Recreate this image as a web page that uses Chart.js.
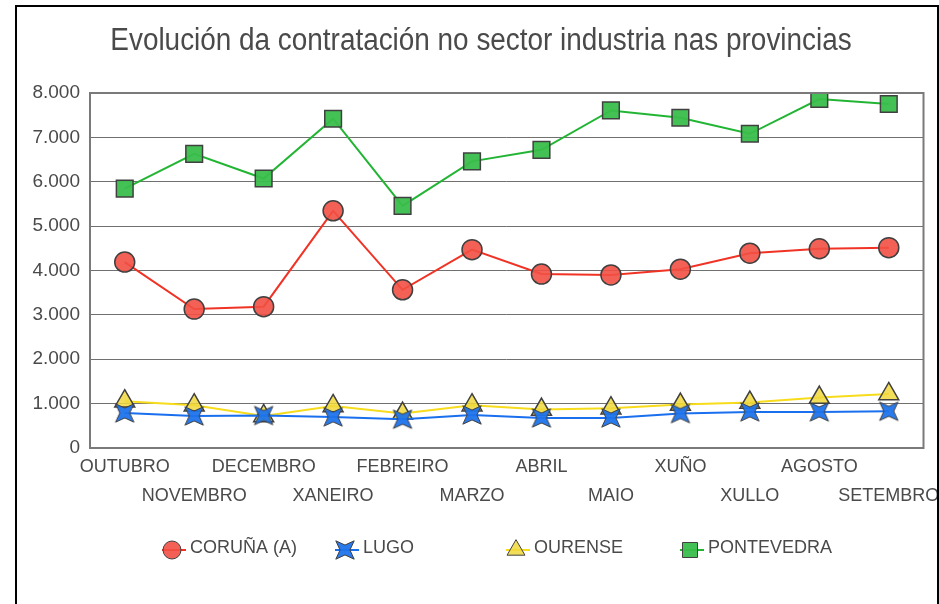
<!DOCTYPE html>
<html>
<head>
<meta charset="utf-8">
<script src="https://cdn.jsdelivr.net/npm/chart.js@4.4.1/dist/chart.umd.min.js"></script>
<style>
  html, body { margin: 0; padding: 0; background: #fff; }
  #frame {
    position: absolute; left: 15px; top: 5px;
    width: 920px; height: 700px;
    border: 2px solid #000; overflow: hidden;
  }
  #chart { display: block; }
</style>
</head>
<body>
<div id="frame"><canvas id="chart" width="920" height="597"></canvas></div>
<script>
const months = ['OUTUBRO', 'NOVEMBRO', 'DECEMBRO', 'XANEIRO', 'FEBREIRO', 'MARZO',
    'ABRIL', 'MAIO', 'XUÑO', 'XULLO', 'AGOSTO', 'SETEMBRO'];

const coruna = [4190, 3130, 3185, 5345, 3565, 4470, 3920, 3900, 4030, 4390, 4490, 4515];
const lugo = [790, 722, 731, 700, 648, 745, 677, 677, 776, 813, 813, 828];
const ourense = [1054, 964, 722, 948, 776, 964, 866, 896, 980, 1025, 1138, 1219];
const pontevedra = [5845, 6630, 6073, 7420, 5456, 6460, 6720, 7607, 7442, 7081, 7865, 7752];

const yTicks = [0, 1000, 2000, 3000, 4000, 5000, 6000, 7000, 8000];

const chartTitle = 'Evolución da contratación no sector industria nas provincias';

const FONT = '"Liberation Sans", Arial, sans-serif';
const TEXT = '#4a4a4a';

// 4-point star marker (points on the diagonals) used by LUGO
function makeStar(size, fill) {
    const c = document.createElement('canvas');
    c.width = size; c.height = size;
    const g = c.getContext('2d');
    const m = size / 2, ro = size / 2 - 1, ri = ro * 0.38;
    g.beginPath();
    for (let i = 0; i < 8; i++) {
        const a = -Math.PI * 3 / 4 + i * Math.PI / 4;
        const r = i % 2 === 0 ? ro : ri;
        const px = m + r * Math.cos(a);
        const py = m + r * Math.sin(a);
        if (i === 0) g.moveTo(px, py); else g.lineTo(px, py);
    }
    g.closePath();
    g.fillStyle = fill;
    g.fill();
    g.strokeStyle = '#404040';
    g.lineWidth = 1;
    g.stroke();
    return c;
}
const starImg = makeStar(28, 'rgba(30,115,235,0.95)');

const series = [
    { label: 'CORUÑA (A)', data: coruna, line: '#f03325', fill: 'rgba(242,80,68,0.9)', style: 'circle', r: 10 },
    { label: 'LUGO', data: lugo, line: '#1a6fee', fill: 'rgba(30,115,235,0.95)', style: starImg, r: 12 },
    { label: 'OURENSE', data: ourense, line: '#f7dc1c', fill: 'rgba(240,216,60,0.85)', style: 'triangle', r: 11.5 },
    { label: 'PONTEVEDRA', data: pontevedra, line: '#22b534', fill: 'rgba(58,190,75,0.95)', style: 'rect', r: 11.8 }
];

const plotFrame = {
    id: 'plotFrame',
    afterDraw(chart) {
        const a = chart.chartArea, ctx = chart.ctx;
        ctx.save();
        ctx.strokeStyle = '#7a7a7a';
        ctx.lineWidth = 2;
        ctx.strokeRect(a.left, a.top, a.right - a.left, a.bottom - a.top);
        ctx.restore();
        // title, condensed horizontally
        ctx.save();
        ctx.fillStyle = TEXT;
        ctx.font = '31px ' + FONT;
        ctx.textAlign = 'center';
        ctx.textBaseline = 'alphabetic';
        ctx.translate(464, 43);
        ctx.scale(0.9, 1);
        ctx.fillText(chartTitle, 0, 0);
        ctx.restore();
    }
};

const customLegend = {
    id: 'customLegend',
    afterDraw(chart) {
        const ctx = chart.ctx;
        const y = 543;
        const xs = [155, 328, 499, 673];
        ctx.save();
        chart.data.datasets.forEach((ds, i) => {
            const cx = xs[i];
            ctx.strokeStyle = ds.borderColor;
            ctx.lineWidth = 2;
            ctx.beginPath();
            ctx.moveTo(cx - 10, y);
            ctx.lineTo(cx + 14, y);
            ctx.stroke();
            ctx.fillStyle = ds.pointBackgroundColor;
            ctx.strokeStyle = '#404040';
            ctx.lineWidth = 1;
            Chart.helpers.drawPoint(ctx, { pointStyle: ds.pointStyle, radius: ds.pointRadius * 0.9, borderWidth: 1, rotation: 0 }, cx, y);
            ctx.fillStyle = TEXT;
            ctx.font = '18px ' + FONT;
            ctx.textBaseline = 'middle';
            ctx.textAlign = 'left';
            ctx.fillText(ds.label, cx + 18, y - 2);
        });
        ctx.restore();
    }
};

new Chart(document.getElementById('chart'), {
    type: 'line',
    data: {
        labels: months,
        datasets: series.map(s => ({
            label: s.label,
            data: s.data,
            borderColor: s.line,
            borderWidth: 2,
            backgroundColor: s.fill,
            pointBackgroundColor: s.fill,
            pointBorderColor: '#404040',
            pointBorderWidth: 1.5,
            pointStyle: s.style,
            pointRadius: s.r,
            tension: 0,
            fill: false
        }))
    },
    options: {
        responsive: false,
        animation: false,
        events: [],
        layout: { padding: { top: 86, left: 0, right: 12, bottom: 96 } },
        plugins: {
            legend: { display: false },
            tooltip: { enabled: false },
            title: { display: false }
        },
        scales: {
            x: {
                offset: true,
                grid: { display: false, drawTicks: false },
                border: { display: false },
                ticks: {
                    autoSkip: false,
                    maxRotation: 0,
                    minRotation: 0,
                    padding: 4,
                    color: TEXT,
                    font: { family: FONT, size: 18, lineHeight: 1.62 },
                    callback: (v, i) => i % 2 ? ['', months[i]] : months[i]
                },
                afterFit(scale) {
                    scale.height = 60;
                    scale.paddingLeft = 0;
                    scale.paddingRight = 0;
                }
            },
            y: {
                min: 0,
                max: 8000,
                afterBuildTicks(scale) { scale.ticks = yTicks.map(v => ({ value: v })); },
                grid: { color: '#707070', lineWidth: 1, drawTicks: false },
                border: { display: false },
                ticks: {
                    padding: 10,
                    color: TEXT,
                    font: { family: FONT, size: 19 },
                    callback: v => String(v).replace(/\B(?=(\d{3})+(?!\d))/g, '.')
                },
                afterFit(scale) {
                    scale.width = 73;
                    scale.paddingTop = 0;
                    scale.paddingBottom = 0;
                }
            }
        }
    },
    plugins: [plotFrame, customLegend]
});
</script>
</body>
</html>
